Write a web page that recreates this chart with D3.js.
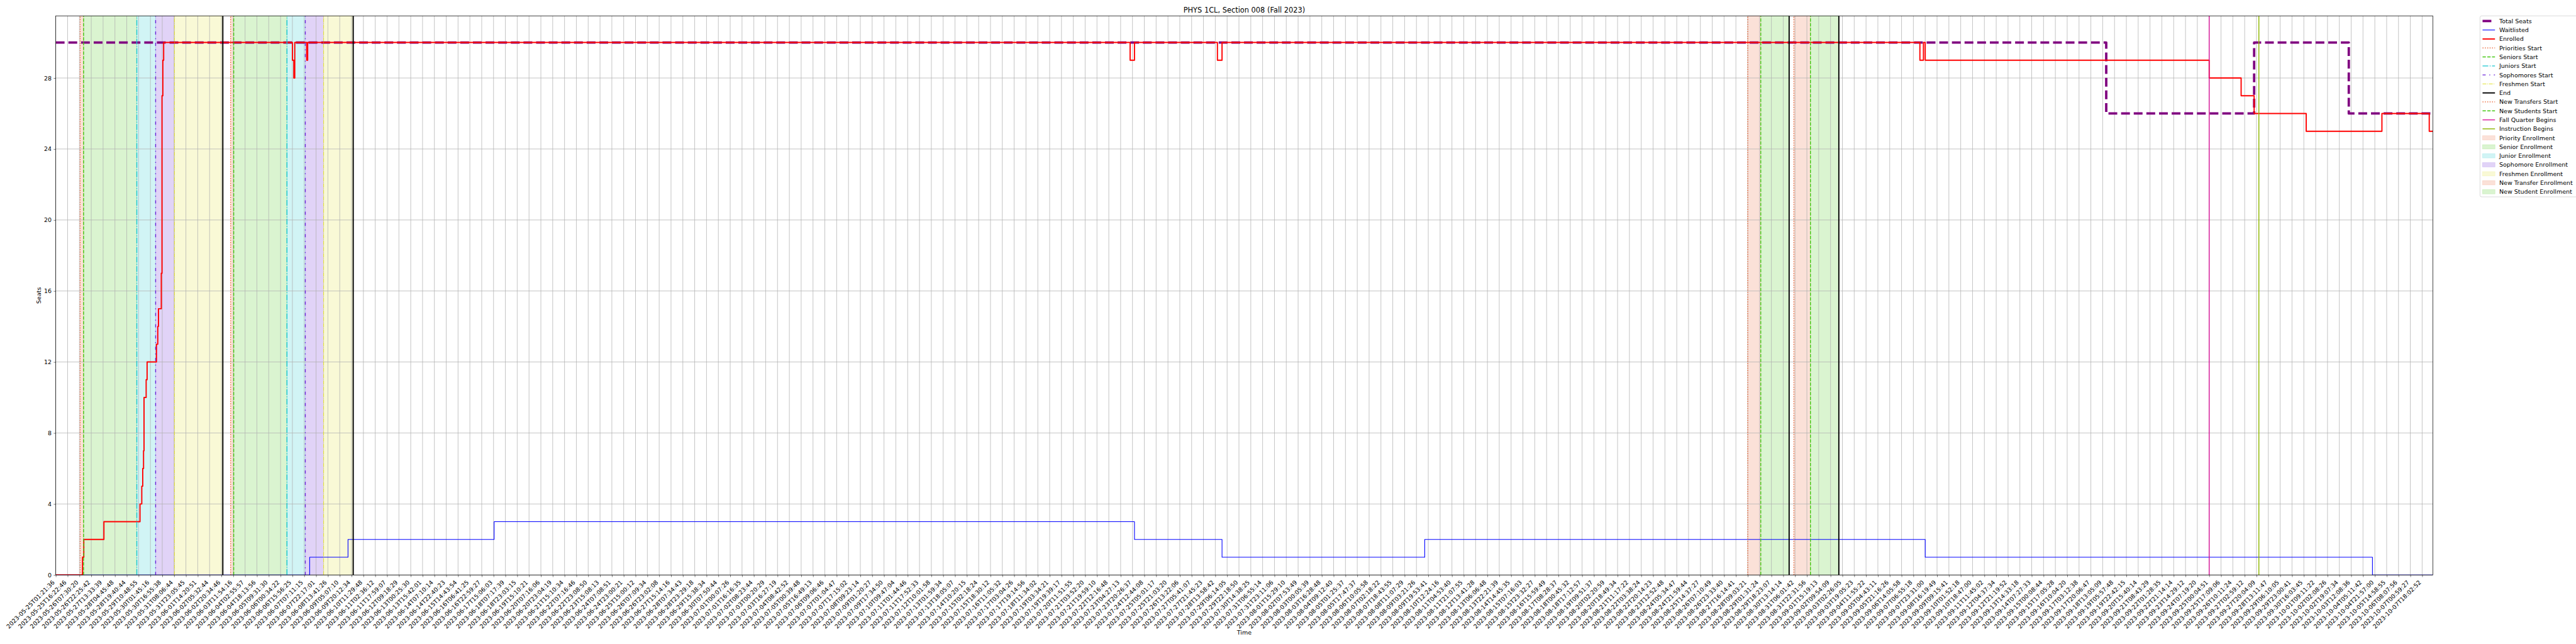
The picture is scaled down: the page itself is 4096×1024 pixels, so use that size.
<!DOCTYPE html>
<html><head><meta charset="utf-8">
<script src="https://cdn.jsdelivr.net/npm/d3@7"></script>
<style>body{margin:0;background:#fff}svg{display:block}text{font-family:"DejaVu Sans",sans-serif;fill:#000}</style>
</head><body><svg id="c" width="4096" height="1024"></svg>
<script>
// ---------------- data ----------------
const title = "PHYS 1CL, Section 008 (Fall 2023)";
const xLabel = "Time", yLabel = "Seats";
const tickLabels = [
"2023-05-25T01:21:36","2023-05-25T16:22:46","2023-05-26T07:30:20","2023-05-26T22:25:42","2023-05-27T13:33:39","2023-05-28T04:45:48","2023-05-28T19:40:44","2023-05-29T10:48:55","2023-05-30T01:45:16","2023-05-30T16:55:38",
"2023-05-31T08:06:44","2023-05-31T23:05:45","2023-06-01T14:20:51","2023-06-02T05:32:44","2023-06-02T20:34:46","2023-06-03T11:54:16","2023-06-04T02:55:57","2023-06-04T18:13:56","2023-06-05T09:31:30","2023-06-06T00:34:22",
"2023-06-06T15:56:25","2023-06-07T07:11:15","2023-06-07T22:17:01","2023-06-08T13:41:26","2023-06-09T05:07:10","2023-06-09T20:12:34","2023-06-10T11:29:48","2023-06-11T02:36:12","2023-06-11T17:59:07","2023-06-12T09:18:29",
"2023-06-13T00:25:30","2023-06-13T15:42:01","2023-06-14T07:10:14","2023-06-14T22:40:23","2023-06-15T14:43:54","2023-06-16T06:41:25","2023-06-16T22:59:27","2023-06-17T15:06:03","2023-06-18T07:17:39","2023-06-18T23:03:15",
"2023-06-19T15:10:21","2023-06-20T07:16:06","2023-06-20T23:04:19","2023-06-21T15:10:34","2023-06-22T07:16:46","2023-06-22T23:08:50","2023-06-23T15:08:13","2023-06-24T07:08:51","2023-06-24T23:00:21","2023-06-25T15:00:12",
"2023-06-26T07:09:34","2023-06-26T23:02:08","2023-06-27T15:14:16","2023-06-28T07:34:43","2023-06-28T23:29:18","2023-06-29T15:38:34","2023-06-30T07:50:44","2023-07-01T00:07:26","2023-07-01T16:16:35","2023-07-02T08:23:44",
"2023-07-03T00:20:29","2023-07-03T16:27:19","2023-07-04T08:42:52","2023-07-05T00:39:48","2023-07-05T16:49:13","2023-07-06T09:06:46","2023-07-07T01:04:47","2023-07-07T17:15:02","2023-07-08T09:23:14","2023-07-09T01:20:27",
"2023-07-09T17:34:50","2023-07-10T09:47:04","2023-07-11T01:44:46","2023-07-11T17:52:33","2023-07-12T10:01:58","2023-07-13T01:59:34","2023-07-13T18:05:07","2023-07-14T10:20:15","2023-07-15T02:18:24","2023-07-15T18:30:12",
"2023-07-16T11:05:32","2023-07-17T03:04:26","2023-07-17T19:14:56","2023-07-18T11:34:02","2023-07-19T03:34:21","2023-07-19T19:39:17","2023-07-20T11:51:55","2023-07-21T03:52:20","2023-07-21T19:59:10","2023-07-22T12:16:48",
"2023-07-23T04:27:13","2023-07-23T20:26:37","2023-07-24T12:44:08","2023-07-25T05:01:17","2023-07-25T21:03:20","2023-07-26T13:22:06","2023-07-27T05:41:07","2023-07-27T21:45:23","2023-07-28T13:58:42","2023-07-29T06:14:05",
"2023-07-29T22:18:50","2023-07-30T14:38:25","2023-07-31T06:55:14","2023-07-31T23:11:06","2023-08-01T15:29:10","2023-08-02T07:53:49","2023-08-03T00:05:39","2023-08-03T16:28:48","2023-08-04T09:12:40","2023-08-05T01:25:37",
"2023-08-05T17:47:37","2023-08-06T10:05:58","2023-08-07T02:18:22","2023-08-07T18:43:55","2023-08-08T11:07:29","2023-08-09T03:21:26","2023-08-09T19:53:41","2023-08-10T12:24:16","2023-08-11T04:53:40","2023-08-11T21:07:55",
"2023-08-12T13:41:28","2023-08-13T06:06:48","2023-08-13T22:21:39","2023-08-14T14:45:35","2023-08-15T07:16:03","2023-08-15T23:32:27","2023-08-16T15:59:49","2023-08-17T08:28:37","2023-08-18T00:45:32","2023-08-18T17:12:57",
"2023-08-19T09:51:37","2023-08-20T02:20:59","2023-08-20T18:49:34","2023-08-21T11:17:22","2023-08-22T03:38:24","2023-08-22T20:14:23","2023-08-23T12:52:48","2023-08-24T05:34:47","2023-08-24T21:59:44","2023-08-25T14:37:27",
"2023-08-26T07:10:49","2023-08-26T23:33:40","2023-08-27T16:14:41","2023-08-28T09:03:21","2023-08-29T01:31:24","2023-08-29T18:23:07","2023-08-30T13:14:14","2023-08-31T06:01:42","2023-08-31T22:31:56","2023-09-01T15:19:13",
"2023-09-02T09:54:09","2023-09-03T02:26:05","2023-09-03T19:05:23","2023-09-04T11:55:22","2023-09-05T04:43:11","2023-09-05T21:16:26","2023-09-06T14:05:58","2023-09-07T06:55:18","2023-09-07T23:31:00","2023-09-08T16:19:49",
"2023-09-09T09:15:41","2023-09-10T01:52:18","2023-09-10T18:47:00","2023-09-11T11:45:02","2023-09-12T04:37:34","2023-09-12T21:19:52","2023-09-13T14:33:18","2023-09-14T07:27:33","2023-09-15T00:08:44","2023-09-15T17:05:28",
"2023-09-16T10:04:20","2023-09-17T03:12:38","2023-09-17T20:06:47","2023-09-18T13:05:09","2023-09-19T05:57:48","2023-09-19T22:42:15","2023-09-20T15:40:14","2023-09-21T08:43:29","2023-09-22T01:28:35","2023-09-22T21:14:14",
"2023-09-23T14:29:12","2023-09-24T07:19:20","2023-09-25T00:04:51","2023-09-25T17:09:06","2023-09-26T10:11:24","2023-09-27T02:59:12","2023-09-27T20:04:09","2023-09-28T13:11:47","2023-09-29T06:10:05","2023-09-29T23:00:41",
"2023-09-30T16:03:45","2023-10-01T09:11:22","2023-10-02T02:08:26","2023-10-02T19:07:34","2023-10-03T12:08:36","2023-10-04T05:11:42","2023-10-04T21:57:00","2023-10-05T14:58:55","2023-10-06T08:07:56","2023-10-07T00:59:27",
"2023-10-07T18:02:52"];
const yTicks = [0, 4, 8, 12, 16, 20, 24, 28];
const yMax = 31.5;
const xEnd = 200.9;   // position of last sample, in tick steps

// step series: value holds from position t[i] until t[i+1]
const seatsT = [0, 173.3, 185.8, 193.8];
const seatsV = [30, 26, 30, 26];
const waitT = [0, 21.46, 24.7, 37.05, 91.17, 98.57, 115.7, 158.0, 195.8];
const waitV = [0, 1, 2, 3, 2, 1, 2, 1, 0];
const enrolledT = [0, 2.26, 2.37, 4.07, 7.12, 7.27, 7.35, 7.42, 7.46, 7.64, 7.72, 8.51, 8.62, 8.68, 8.92, 8.98, 9.05, 9.12,
  20.0, 20.12, 20.2, 21.21, 21.29, 90.8, 91.17, 98.18, 98.57, 157.55, 157.85, 158.0, 182.0, 184.7, 185.8, 190.2, 196.6, 200.6];
const enrolledV = [0, 1, 2, 3, 4, 5, 6, 7, 10, 11, 12, 13, 14, 15, 17, 27, 29, 30,
  29, 28, 30, 29, 30, 29, 30, 29, 30, 29, 30, 29, 28, 27, 26, 25, 26, 25];

// event markers (positions in tick steps)
const vlineT    = [2.06, 2.35, 6.85, 8.44, 10.03, 14.12, 14.78, 15.04, 19.54, 21.09, 22.64, 25.14,
                   143.0, 144.1, 146.5, 146.9, 148.3, 150.7, 182.0, 186.2];
const vlineKind = ["prio","senior","junior","soph","fresh","end","prio","senior","junior","soph","fresh","end",
                   "ntrans","nstud","end","ntrans","nstud","end","fall","instr"];
const spanT0   = [2.06, 2.35, 6.85, 8.44, 10.03, 14.78, 15.04, 19.54, 21.09, 22.64, 143.0, 144.1, 146.9, 148.3];
const spanT1   = [2.35, 6.85, 8.44, 10.03, 14.12, 15.04, 19.54, 21.09, 22.64, 25.14, 144.1, 146.5, 148.3, 150.7];
const spanKind = ["prio","senior","junior","soph","fresh","prio","senior","junior","soph","fresh","ntrans","nstud","ntrans","nstud"];

const legendLabels = ["Total Seats","Waitlisted","Enrolled","Priorities Start","Seniors Start","Juniors Start","Sophomores Start",
  "Freshmen Start","End","New Transfers Start","New Students Start","Fall Quarter Begins","Instruction Begins",
  "Priority Enrollment","Senior Enrollment","Junior Enrollment","Sophomore Enrollment","Freshmen Enrollment",
  "New Transfer Enrollment","New Student Enrollment"];
const legendKeys = ["seats","wait","enrolled","prio","senior","junior","soph","fresh","end","ntrans","nstud","fall","instr",
  "sp:prio","sp:senior","sp:junior","sp:soph","sp:fresh","sp:ntrans","sp:nstud"];

// ---------------- styles ----------------
const S = 0.682;
const lineStyle = {
  seats:   {c:"#800080", w:3.8,  d:"14,6.1"},
  wait:    {c:"#0000ff", w:1.1,  d:null},
  enrolled:{c:"#ff0000", w:1.9,  d:null},
  prio:    {c:"#ec6a3c", w:1.42, d:"1.42,2.35"},
  senior:  {c:"#46c814", w:1.42, d:"5.25,2.27"},
  junior:  {c:"#17c6cf", w:1.42, d:"9.1,2.27,1.42,2.27"},
  soph:    {c:"#6a22d8", w:1.42, d:"5,5.7,1.5,5.7"},
  fresh:   {c:"#e0e030", w:1.0,  d:"6.1,1.5,1,1.5"},
  end:     {c:"#000000", w:1.9,  d:null},
  ntrans:  {c:"#ec6a3c", w:1.42, d:"1.42,2.35"},
  nstud:   {c:"#46c814", w:1.42, d:"5.25,2.27"},
  fall:    {c:"#d8159a", w:1.42, d:null},
  instr:   {c:"#8db600", w:1.42, d:null}
};
const spanColor = {prio:"#ec6a3c", senior:"#46c814", junior:"#17c6cf", soph:"#6a22d8", fresh:"#e0e030", ntrans:"#ec6a3c", nstud:"#46c814"};
const spanAlpha = 0.2;

const L = 130*S, R = 5672*S, T = 37*S, B = 1340.5*S;
const svg = d3.select("#c");
const x = d3.scaleLinear().domain([0, xEnd]).range([L, R]);
const y = d3.scaleLinear().domain([0, yMax]).range([B, T]);

const plot = svg.append("g");
plot.append("clipPath").attr("id","clip").append("rect").attr("x",L).attr("y",T).attr("width",R-L).attr("height",B-T);

// spans
plot.append("g").selectAll("rect").data(spanT0.map((t,i)=>({t0:t,t1:spanT1[i],k:spanKind[i]}))).join("rect")
  .attr("x", d=>x(d.t0)).attr("width", d=>x(d.t1)-x(d.t0)).attr("y",T).attr("height",B-T)
  .attr("fill", d=>spanColor[d.k]).attr("fill-opacity", spanAlpha)
  .attr("stroke", d=>spanColor[d.k]).attr("stroke-opacity", spanAlpha).attr("stroke-width",0.7);

// grid
const grid = plot.append("g").attr("stroke","#b0b0b0").attr("stroke-width",0.75);
grid.selectAll(".gx").data(d3.range(tickLabels.length)).join("line").attr("class","gx")
  .attr("x1",d=>x(d)).attr("x2",d=>x(d)).attr("y1",T).attr("y2",B);
grid.selectAll(".gy").data(yTicks).join("line").attr("class","gy")
  .attr("y1",d=>y(d)).attr("y2",d=>y(d)).attr("x1",L).attr("x2",R);

// series
function stepPts(ts, vs){ const p = ts.map((t,i)=>[t, vs[i]]); p.push([xEnd, vs[vs.length-1]]); return p; }
const line = d3.line().x(d=>x(d[0])).y(d=>y(d[1])).curve(d3.curveStepAfter);
const series = [["seats", seatsT, seatsV], ["wait", waitT, waitV], ["enrolled", enrolledT, enrolledV]];
const lg = plot.append("g").attr("clip-path","url(#clip)");
series.forEach(([k, ts, vs])=>{
  const st = lineStyle[k];
  lg.append("path").attr("d", line(stepPts(ts, vs))).attr("fill","none")
    .attr("stroke", st.c).attr("stroke-width", st.w).attr("stroke-dasharray", st.d)
    .attr("stroke-linejoin","round").attr("stroke-linecap", st.d ? "butt" : "square");
});

// vertical event lines
lg.selectAll(".vl").data(vlineT.map((t,i)=>({t, k:vlineKind[i]}))).join("line").attr("class","vl")
  .attr("x1",d=>x(d.t)).attr("x2",d=>x(d.t)).attr("y1",B).attr("y2",T)
  .attr("stroke",d=>lineStyle[d.k].c).attr("stroke-width",d=>lineStyle[d.k].w)
  .attr("stroke-dasharray",d=>lineStyle[d.k].d);

// axes
const xAxis = svg.append("g").attr("transform",`translate(0,${B})`)
  .call(d3.axisBottom(x).tickValues(d3.range(tickLabels.length)).tickFormat(i=>tickLabels[i]).tickSize(3.3).tickSizeOuter(0));
xAxis.select(".domain").remove();
xAxis.selectAll(".tick line").attr("stroke","#000").attr("stroke-width",0.55);
xAxis.selectAll(".tick text").attr("x",0).attr("y",0).attr("dy",null)
  .attr("transform","translate(-1.6,12.6) rotate(-45)").attr("text-anchor","end")
  .style("font-size","9.5px").style("font-family","DejaVu Sans");

const yAxis = svg.append("g").attr("transform",`translate(${L},0)`)
  .call(d3.axisLeft(y).tickValues(yTicks).tickSize(3.3).tickPadding(3.3).tickSizeOuter(0));
yAxis.select(".domain").remove();
yAxis.selectAll(".tick line").attr("stroke","#000").attr("stroke-width",0.55);
yAxis.selectAll(".tick text").style("font-size","9.5px").style("font-family","DejaVu Sans");

// frame
svg.append("rect").attr("x",L).attr("y",T).attr("width",R-L).attr("height",B-T)
  .attr("fill","none").attr("stroke","#000").attr("stroke-width",0.75);

// titles
svg.append("text").attr("x",(L+R)/2).attr("y",19.6).attr("text-anchor","middle").style("font-size","11.4px").text(title);
svg.append("text").attr("x",(L+R)/2).attr("y",1009).attr("text-anchor","middle").style("font-size","9.5px").text(xLabel);
svg.append("text").attr("transform",`translate(65,${(T+B)/2}) rotate(-90)`).attr("text-anchor","middle").style("font-size","9.5px").text(yLabel);

// legend
const lx = 5782*S, ly = 37*S, rowH = 20.95*S, row0 = 49*S;
const leg = svg.append("g");
leg.append("rect").attr("x",lx).attr("y",ly).attr("width",300).attr("height",(459-37)*S).attr("rx",2.7)
  .attr("fill","#fff").attr("fill-opacity",0.8).attr("stroke","#cccccc").attr("stroke-width",0.7);
const hx0 = 5788*S, hx1 = 5817*S, tx = 5827*S;
legendKeys.forEach((k,i)=>{
  const cy = row0 + i*rowH;
  if (k.startsWith("sp:")) {
    const c = spanColor[k.slice(3)];
    leg.append("rect").attr("x",hx0).attr("y",cy-3.4).attr("width",hx1-hx0).attr("height",6.8)
      .attr("fill",c).attr("fill-opacity",spanAlpha).attr("stroke",c).attr("stroke-opacity",spanAlpha).attr("stroke-width",0.7);
  } else {
    const st = lineStyle[k];
    leg.append("line").attr("x1",hx0).attr("x2",hx1).attr("y1",cy).attr("y2",cy)
      .attr("stroke",st.c).attr("stroke-width",st.w).attr("stroke-dasharray",st.d);
  }
  leg.append("text").attr("x",tx).attr("y",cy+3.4).style("font-size","9.5px").text(legendLabels[i]);
});
</script></body></html>
